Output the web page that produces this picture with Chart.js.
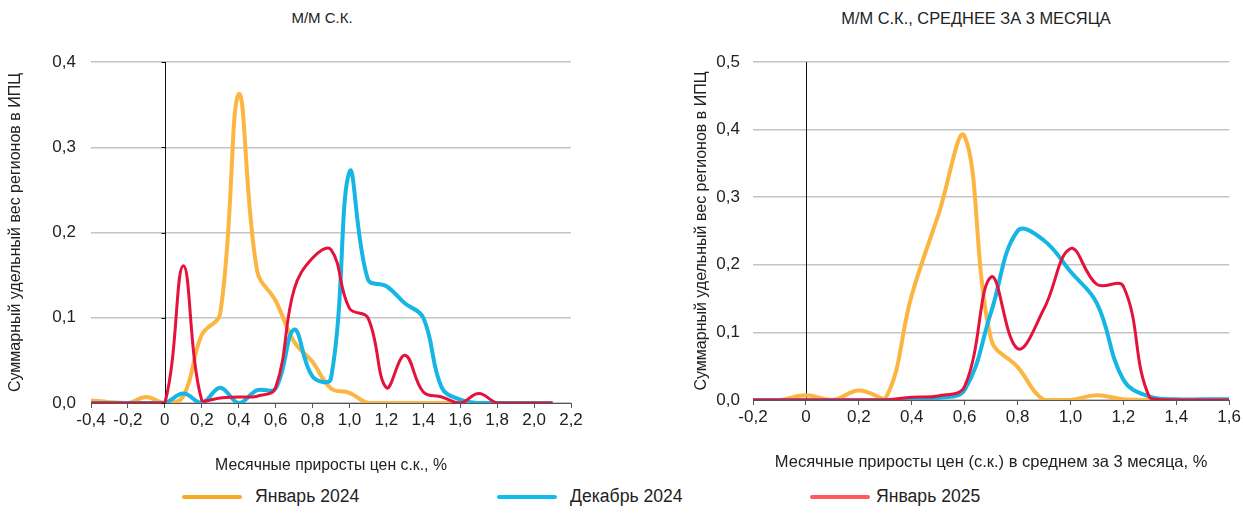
<!DOCTYPE html>
<html>
<head>
<meta charset="utf-8">
<script src="https://cdn.jsdelivr.net/npm/chart.js@4.4.1/dist/chart.umd.min.js"></script>
<style>
  body { margin: 0; background: #fff; width: 1243px; height: 513px; overflow: hidden; position: relative; font-family: 'Liberation Sans', Arial, sans-serif; color: #222; }
  canvas { position: absolute; top: 0; }
  .title { position: absolute; top: 9px; white-space: nowrap; transform: translateX(-50%); }
  .legend { position: absolute; top: 486px; font-size: 17.6px; white-space: nowrap; }
  .legend span.line { position: absolute; top: 9px; width: 60px; height: 4px; border-radius: 2px; }
</style>
</head>
<body>
<div class="title" style="left:322px;font-size:15px">М/М С.К.</div>
<div class="title" style="left:976px;font-size:16.4px">М/М С.К., СРЕДНЕЕ ЗА 3 МЕСЯЦА</div>
<canvas id="left" width="600" height="475" style="left:0;width:600px;height:475px"></canvas>
<canvas id="right" width="623" height="475" style="left:620px;width:623px;height:475px"></canvas>
<div id="legend"></div>
<script>
// left chart: monthly, s.a.
const xLeft = [-0.4, -0.3, -0.2, -0.1, 0, 0.1, 0.2, 0.3, 0.4, 0.5, 0.6, 0.7, 0.8, 0.9, 1.0, 1.1, 1.2, 1.3, 1.4, 1.5, 1.6, 1.7, 1.8, 1.9, 2.0, 2.1];
const leftJan24 = [0.003, 0.001, 0, 0.007, 0, 0.008, 0.08, 0.105, 0.362, 0.155, 0.12, 0.072, 0.048, 0.017, 0.012, 0, 0, 0, 0, 0, 0, 0, 0, 0, 0, 0];
const leftDec24 = [0, 0, 0, 0, 0, 0.011, 0, 0.018, 0, 0.015, 0.017, 0.086, 0.031, 0.029, 0.271, 0.145, 0.137, 0.117, 0.1, 0.018, 0.004, 0, 0, 0, 0, 0];
const leftJan25 = [0, 0, 0, 0, 0, 0.161, 0.003, 0.006, 0.007, 0.008, 0.018, 0.133, 0.17, 0.18, 0.111, 0.1, 0.018, 0.056, 0.013, 0.007, 0, 0.011, 0, 0, 0, 0];

// right chart: 3-month average
const xRight = [-0.2, -0.1, 0, 0.1, 0.2, 0.3, 0.4, 0.5, 0.6, 0.7, 0.8, 0.9, 1.0, 1.1, 1.2, 1.3, 1.4, 1.5, 1.6];
const rightJan24 = [0, 0, 0.007, 0, 0.014, 0.002, 0.155, 0.273, 0.39, 0.09, 0.049, 0, 0, 0.007, 0.001, 0, 0, 0, 0];
const rightDec24 = [0, 0, 0, 0, 0, 0, 0.001, 0.003, 0.015, 0.13, 0.25, 0.236, 0.19, 0.143, 0.03, 0.005, 0.001, 0.001, 0.001];
const rightJan25 = [0, 0, 0, 0, 0, 0, 0.004, 0.006, 0.02, 0.182, 0.076, 0.135, 0.224, 0.171, 0.168, 0.003, 0, 0, 0];

const seriesNames = ['Январь 2024', 'Декабрь 2024', 'Январь 2025'];
const lineColors = ['#FDB541', '#16B6E4', '#E5123B'];
const legendColors = ['#F7A823', '#0FBCEB', '#FF5A5C'];
const lineWidths = [4, 4, 3];

Chart.defaults.font.family = "'Liberation Sans', Arial, sans-serif";
Chart.defaults.color = '#222';

const fmt = (v) => (Math.round(v * 10) / 10).toFixed(1).replace('.', ',');

// vertical line at x = 0 (and small ticks on the left chart)
const zeroLine = {
    id: 'zeroLine',
    beforeDatasetsDraw(chart, args, opts) {
        const { ctx, chartArea, scales } = chart;
        const x0 = Math.round(scales.x.getPixelForValue(0)) + 0.5;
        ctx.save();
        ctx.strokeStyle = '#111';
        ctx.lineWidth = 1;
        ctx.beginPath();
        ctx.moveTo(x0, chartArea.top);
        ctx.lineTo(x0, chartArea.bottom);
        if (opts.ticks) {
            scales.y.ticks.forEach((t) => {
                const y = Math.round(scales.y.getPixelForValue(t.value)) + 0.5;
                ctx.moveTo(x0 - 4, y);
                ctx.lineTo(x0, y);
            });
        }
        ctx.stroke();
        ctx.restore();
    }
};

const makeChart = (id, xs, sets, cfg) => {
    const datasets = sets.map((ys, i) => ({
        label: seriesNames[i],
        data: xs.map((x, j) => ({ x: x, y: ys[j] })),
        borderColor: lineColors[i],
        borderWidth: lineWidths[i],
        pointRadius: 0,
        tension: 0.4,
        fill: false,
        order: 3 - i
    }));
    return new Chart(document.getElementById(id), {
        type: 'line',
        data: { datasets: datasets },
        plugins: [zeroLine],
        options: {
            responsive: false,
            animation: false,
            layout: { padding: cfg.padding },
            plugins: {
                legend: { display: false },
                tooltip: { enabled: false },
                zeroLine: { ticks: cfg.yTicks }
            },
            scales: {
                x: {
                    type: 'linear',
                    min: cfg.xMin, max: cfg.xMax,
                    afterFit: (axis) => { axis.height = 72; },
                    afterBuildTicks: (axis) => {
                        const t = [];
                        for (let v = Math.round(cfg.xMin * 10); v <= Math.round(cfg.xMax * 10); v += 2) t.push({ value: v / 10 });
                        axis.ticks = t;
                    },
                    ticks: {
                        font: { size: 17 },
                        color: '#222',
                        padding: 2,
                        maxRotation: 0,
                        callback: (v) => (Math.abs(v) < 1e-9 ? '0' : fmt(v))
                    },
                    grid: { drawOnChartArea: false, tickLength: 5, tickColor: '#555' },
                    border: { color: '#555', width: 1 },
                    title: { display: true, text: cfg.xTitle, font: { size: cfg.xTitleSize }, color: '#222', padding: { top: 13, bottom: 0 } }
                },
                y: {
                    min: 0, max: cfg.yMax,
                    afterFit: (axis) => { axis.width = cfg.yWidth; },
                    ticks: {
                        stepSize: 0.1,
                        font: { size: 17 },
                        color: '#222',
                        padding: cfg.yPad,
                        callback: (v) => fmt(v)
                    },
                    grid: { color: '#C4C4C4', lineWidth: 1.5, drawTicks: false },
                    border: { display: false },
                    title: { display: true, text: 'Суммарный удельный вес регионов в ИПЦ', font: { size: 16 }, color: '#222', padding: { top: 2, bottom: 0 } }
                }
            }
        }
    });
};

makeChart('left', xLeft, [leftJan24, leftDec24, leftJan25], {
    padding: { left: 4, right: 29, top: 62, bottom: 0 },
    xMin: -0.4, xMax: 2.2, yMax: 0.4, yWidth: 87, yPad: 15, yTicks: true,
    xTitle: 'Месячные приросты цен с.к., %', xTitleSize: 15.8
});
makeChart('right', xRight, [rightJan24, rightDec24, rightJan25], {
    padding: { left: 70, right: 13, top: 62, bottom: 3 },
    xMin: -0.2, xMax: 1.6, yMax: 0.5, yWidth: 63, yPad: 13, yTicks: false,
    xTitle: 'Месячные приросты цен (с.к.) в среднем за 3 месяца, %', xTitleSize: 16.5
});

// legend
const legendX = [182, 497, 810];
const legendBox = document.getElementById('legend');
seriesNames.forEach((name, i) => {
    const item = document.createElement('div');
    item.className = 'legend';
    item.style.left = legendX[i] + 'px';
    item.innerHTML = '<span class="line" style="left:0;background:' + legendColors[i] + '"></span>' +
        '<span style="margin-left:' + (i === 2 ? 66 : 73) + 'px">' + name + '</span>';
    legendBox.appendChild(item);
});
</script>
</body>
</html>
